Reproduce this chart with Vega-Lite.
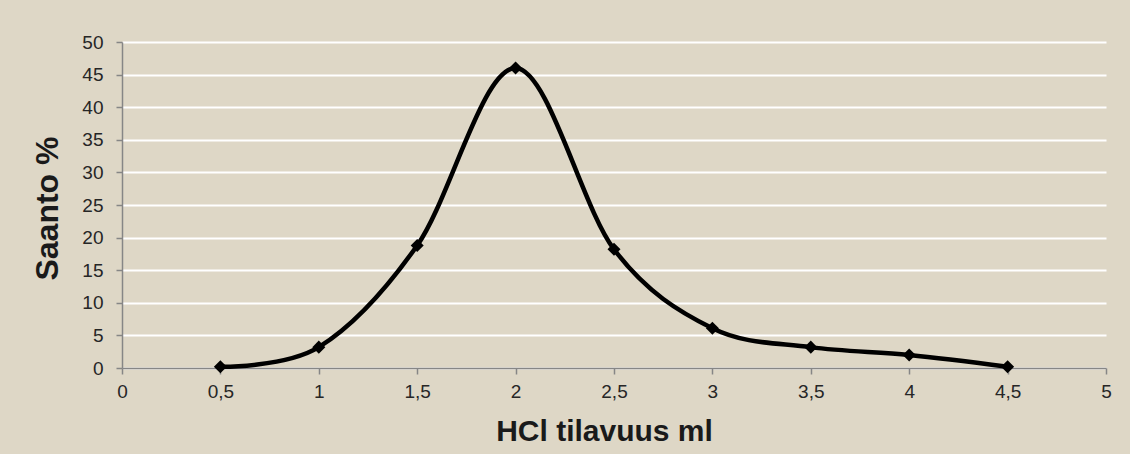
{
  "$schema": "https://vega.github.io/schema/vega-lite/v6.json",
  "autosize": "none",
  "width": 984,
  "height": 326,
  "padding": {"left": 122, "top": 42, "right": 24, "bottom": 86},
  "background": "#ded7c6",
  "config": {
    "view": {"stroke": null},
    "font": "Liberation Sans",
    "axis": {
      "labelFont": "Liberation Sans",
      "labelFontSize": 19,
      "labelColor": "#262626",
      "titleFont": "Liberation Sans",
      "titleColor": "#1a1a1a",
      "titleFontWeight": "bold",
      "domainColor": "#868686",
      "domainWidth": 1.5,
      "tickColor": "#868686",
      "tickWidth": 1.5,
      "tickSize": 6
    }
  },
  "data": {
    "values": [
      {"hcl": 0.5, "saanto": 0.2},
      {"hcl": 1.0, "saanto": 3.2},
      {"hcl": 1.5, "saanto": 18.8},
      {"hcl": 2.0, "saanto": 46.0},
      {"hcl": 2.5, "saanto": 18.2},
      {"hcl": 3.0, "saanto": 6.1},
      {"hcl": 3.5, "saanto": 3.2},
      {"hcl": 4.0, "saanto": 2.0},
      {"hcl": 4.5, "saanto": 0.2}
    ]
  },
  "encoding": {
    "x": {
      "field": "hcl",
      "type": "quantitative",
      "scale": {"domain": [0, 5], "nice": false},
      "axis": {
        "title": "HCl tilavuus ml",
        "titleFontSize": 30,
        "titleX": 482,
        "titleY": 72,
        "titleAlign": "center",
        "titleBaseline": "alphabetic",
        "values": [0, 0.5, 1, 1.5, 2, 2.5, 3, 3.5, 4, 4.5, 5],
        "labelExpr": "replace(format(datum.value, '~g'), '.', ',')",
        "labelPadding": 8,
        "labelFlush": false,
        "labelOverlap": false,
        "grid": false
      }
    },
    "y": {
      "field": "saanto",
      "type": "quantitative",
      "scale": {"domain": [0, 50], "nice": false},
      "axis": {
        "title": "Saanto %",
        "titleFontSize": 32,
        "titleX": -65,
        "titleY": 166,
        "titleAngle": -90,
        "titleAlign": "center",
        "titleBaseline": "alphabetic",
        "values": [0, 5, 10, 15, 20, 25, 30, 35, 40, 45, 50],
        "labelPadding": 13,
        "labelFlush": false,
        "grid": true,
        "gridColor": "#ffffff",
        "gridWidth": 2,
        "gridOpacity": 1
      }
    }
  },
  "layer": [
    {
      "mark": {"type": "line", "interpolate": "cardinal", "color": "#000000", "strokeWidth": 4.5}
    },
    {
      "mark": {"type": "point", "shape": "diamond", "filled": true, "color": "#000000", "size": 170, "opacity": 1}
    }
  ]
}
